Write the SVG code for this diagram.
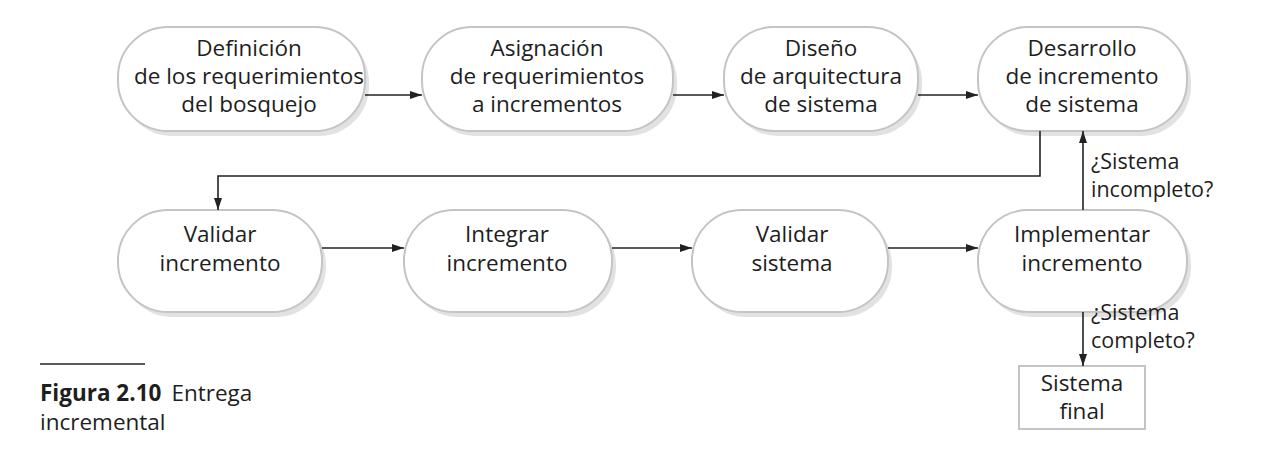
<svg xmlns="http://www.w3.org/2000/svg" width="1280" height="467" viewBox="0 0 1280 467">
<defs>
<marker id="ah" viewBox="0 0 12 8" refX="12" refY="4" markerWidth="12" markerHeight="8" markerUnits="userSpaceOnUse" orient="auto">
<path d="M0,0 L12,4 L0,8 z" fill="#222"/>
</marker>
</defs>
<style>
.pill{fill:#fff;stroke:#c4c4c4;stroke-width:2}
.sh{fill:#e2e2e2}
.t{font-family:"Open Sans","Liberation Sans",sans-serif;font-size:22.5px;fill:#1e1e1e;text-anchor:middle}
.l{font-family:"Open Sans","Liberation Sans",sans-serif;font-size:22.5px;fill:#1e1e1e}
.lb{font-family:"Open Sans","Liberation Sans",sans-serif;font-size:21.5px;fill:#1e1e1e}
.c{stroke:#222;stroke-width:1.6;fill:none}
</style>
<rect width="1280" height="467" fill="#fff"/>
<g id="n1"><rect class="sh" x="122" y="32" width="247" height="104" rx="50"/><rect class="pill" x="118" y="27" width="247" height="104" rx="50"/>
<text class="t"><tspan x="249" y="56">Definición</tspan><tspan x="249" y="84">de los requerimientos</tspan><tspan x="249" y="112">del bosquejo</tspan></text></g>
<g id="n2"><rect class="sh" x="426" y="32" width="251" height="104" rx="50"/><rect class="pill" x="422" y="27" width="251" height="104" rx="50"/>
<text class="t"><tspan x="547" y="56">Asignación</tspan><tspan x="547" y="84">de requerimientos</tspan><tspan x="547" y="112">a incrementos</tspan></text></g>
<g id="n3"><rect class="sh" x="728" y="32" width="194" height="104" rx="50"/><rect class="pill" x="724" y="27" width="194" height="104" rx="50"/>
<text class="t"><tspan x="821" y="56">Diseño</tspan><tspan x="821" y="84">de arquitectura</tspan><tspan x="821" y="112">de sistema</tspan></text></g>
<g id="n4"><rect class="sh" x="982" y="32" width="209" height="104" rx="50"/><rect class="pill" x="978" y="27" width="209" height="104" rx="50"/>
<text class="t"><tspan x="1082" y="56">Desarrollo</tspan><tspan x="1082" y="84">de incremento</tspan><tspan x="1082" y="112">de sistema</tspan></text></g>
<g id="n5"><rect class="sh" x="122" y="215" width="204" height="102" rx="50"/><rect class="pill" x="118" y="210" width="204" height="102" rx="50"/>
<text class="t"><tspan x="220" y="242">Validar</tspan><tspan x="220" y="271">incremento</tspan></text></g>
<g id="n6"><rect class="sh" x="408" y="215" width="208" height="102" rx="50"/><rect class="pill" x="404" y="210" width="208" height="102" rx="50"/>
<text class="t"><tspan x="507" y="242">Integrar</tspan><tspan x="507" y="271">incremento</tspan></text></g>
<g id="n7"><rect class="sh" x="696" y="215" width="196" height="102" rx="50"/><rect class="pill" x="692" y="210" width="196" height="102" rx="50"/>
<text class="t"><tspan x="792" y="242">Validar</tspan><tspan x="792" y="271">sistema</tspan></text></g>
<g id="n8"><rect class="sh" x="982" y="215" width="209" height="102" rx="50"/><rect class="pill" x="978" y="210" width="209" height="102" rx="50"/>
<text class="t"><tspan x="1082" y="242">Implementar</tspan><tspan x="1082" y="271">incremento</tspan></text></g>
<g id="n9"><rect x="1019" y="366" width="126" height="63" fill="#fff" stroke="#c4c4c4" stroke-width="2"/>
<text class="t"><tspan x="1082" y="391">Sistema</tspan><tspan x="1082" y="419">final</tspan></text></g>
<g id="connectors">
<line class="c" x1="365" y1="95" x2="422" y2="95" marker-end="url(#ah)"/>
<line class="c" x1="673" y1="95" x2="724" y2="95" marker-end="url(#ah)"/>
<line class="c" x1="918" y1="95" x2="978" y2="95" marker-end="url(#ah)"/>
<polyline class="c" points="1040,131 1040,176 218,176 218,210" marker-end="url(#ah)"/>
<line class="c" x1="322" y1="248" x2="404" y2="248" marker-end="url(#ah)"/>
<line class="c" x1="612" y1="248" x2="692" y2="248" marker-end="url(#ah)"/>
<line class="c" x1="888" y1="248" x2="978" y2="248" marker-end="url(#ah)"/>
<line class="c" x1="1083" y1="210" x2="1083" y2="131" marker-end="url(#ah)"/>
<line class="c" x1="1083" y1="312" x2="1083" y2="366" marker-end="url(#ah)"/>
<text class="lb"><tspan x="1091" y="169">¿Sistema</tspan><tspan x="1091" y="197">incompleto?</tspan></text>
<text class="lb"><tspan x="1091" y="320">¿Sistema</tspan><tspan x="1091" y="348">completo?</tspan></text>
</g>
<g id="caption">
<line x1="40" y1="364" x2="145" y2="364" stroke="#222" stroke-width="1.5"/>
<text class="l" x="40" y="401"><tspan font-weight="bold">Figura 2.10</tspan><tspan dx="10">Entrega</tspan></text>
<text class="l" x="40" y="430">incremental</text>
</g>
</svg>
